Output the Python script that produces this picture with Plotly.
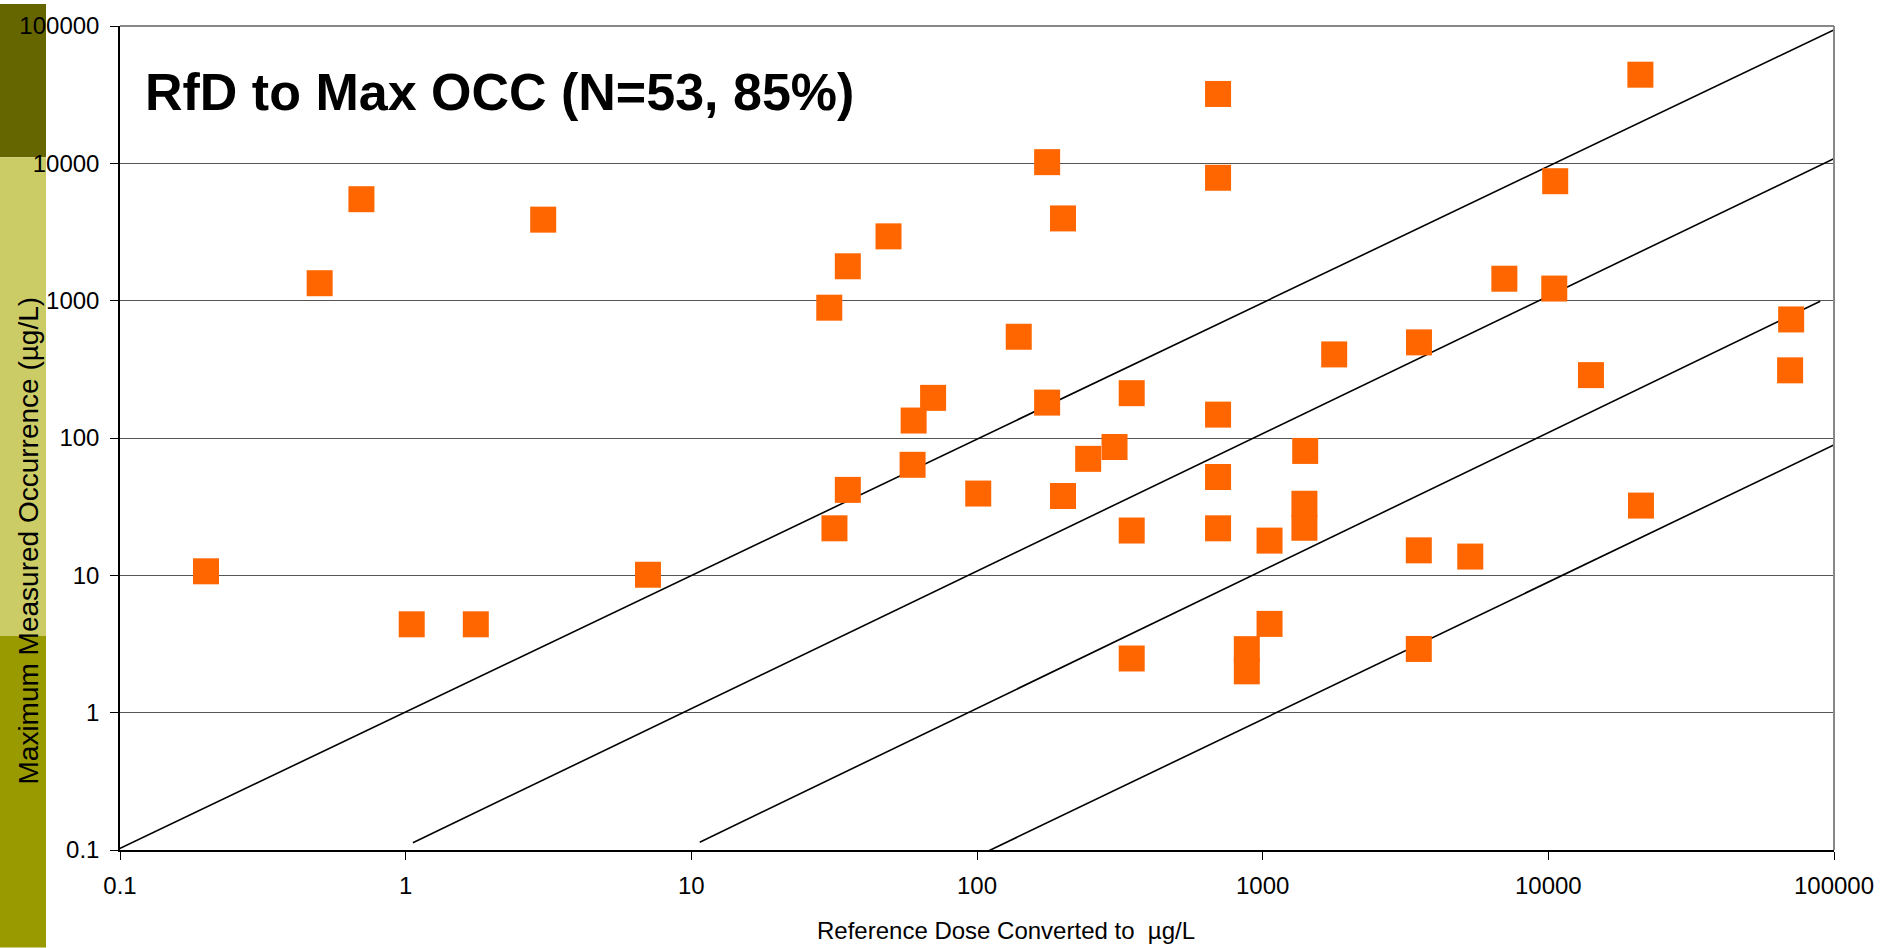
import plotly.graph_objects as go

# ---- data ----
rfd_ugl = [0.2, 0.5, 0.7, 1.05, 1.76, 3.03, 7.05, 30.4, 31.7, 35.3, 35.3, 49, 60, 59.5, 70.2,
           101, 140, 176, 176, 200, 200, 245, 303, 348, 348, 348, 698, 698, 698, 698, 698,
           880, 880, 1057, 1057, 1409, 1400, 1400, 1780, 3525, 3520, 3520, 5330, 7015,
           10570, 10490, 14100, 21000, 21100, 70800, 70200]
max_occ = [10.7, 1340, 5480, 4.4, 4.4, 3890, 10.1, 889, 22, 1780, 41.9, 2940, 134, 63.8, 196,
           39.4, 546, 10200, 181, 3970, 37.8, 70.5, 86, 212, 21.2, 2.48, 32000, 7850, 148, 52, 22,
           2.9, 2.0, 4.43, 17.9, 80.5, 33.2, 22.2, 406, 497, 15.2, 2.91, 13.7, 1445,
           7410, 1225, 287, 44200, 32.2, 730, 311]

# reference lines (start / end points)
line_x0 = [0.087, 1.06, 10.7, 96.6]
line_y0 = [0.0895, 0.113, 0.114, 0.0867]
line_x1 = [101000, 101000, 89500, 101000]
line_y1 = [94600, 10940, 990, 90]

tick_vals = [0.1, 1, 10, 100, 1000, 10000, 100000]
tick_text = ["0.1", "1", "10", "100", "1000", "10000", "100000"]

title_text = "RfD to Max OCC (N=53, 85%)"
x_title = "Reference Dose Converted to  µg/L"
y_title = "Maximum Measured Occurrence (µg/L)"

# ---- layout geometry (pixels) ----
W, H = 1886, 948
L, R, T, B = 120, 52, 22, 98
PW, PH = W - L - R, H - T - B


def px(X):
    return (X - L) / PW


def py(Y):
    return (H - B - Y) / PH


FONT = "Liberation Sans, Arial, sans-serif"

fig = go.Figure()

for i in range(len(line_x0)):
    fig.add_trace(go.Scatter(x=[line_x0[i], line_x1[i]], y=[line_y0[i], line_y1[i]],
                             mode="lines", line=dict(color="black", width=1.6),
                             showlegend=False, hoverinfo="skip"))

fig.add_trace(go.Scatter(x=rfd_ugl, y=max_occ, mode="markers",
                         marker=dict(symbol="square", size=26, color="#FF6600",
                                     line=dict(width=0)),
                         showlegend=False))

axis_common = dict(type="log", tickvals=tick_vals, ticktext=tick_text,
                   tickfont=dict(family=FONT, size=24, color="black"),
                   ticks="outside", ticklen=8, tickcolor="black", tickwidth=1,
                   showline=True, linecolor="black", linewidth=1.5,
                   zeroline=False)

fig.update_xaxes(range=[-1, 5], showgrid=False, ticklabelstandoff=5, **axis_common)
fig.update_yaxes(range=[-1, 5], showgrid=True, gridcolor="#555555", gridwidth=1,
                 ticklabelstandoff=6, **axis_common)

shapes = [
    # decorative left strip
    dict(type="rect", xref="paper", yref="paper", x0=px(0), x1=px(46), y0=py(0), y1=py(154),
         fillcolor="#666600", line=dict(width=0), layer="below"),
    dict(type="rect", xref="paper", yref="paper", x0=px(0), x1=px(46), y0=py(154), y1=py(635),
         fillcolor="#CCCC66", line=dict(width=0), layer="below"),
    dict(type="rect", xref="paper", yref="paper", x0=px(0), x1=px(46), y0=py(635), y1=py(H),
         fillcolor="#999900", line=dict(width=0), layer="below"),
    # gray top / right border
    dict(type="line", xref="paper", yref="paper", x0=0, x1=1, y0=1, y1=1,
         line=dict(color="#888888", width=2)),
    dict(type="line", xref="paper", yref="paper", x0=1, x1=1, y0=0, y1=1,
         line=dict(color="#888888", width=2)),
]

annotations = [
    dict(text="<b>" + title_text + "</b>", xref="paper", yref="paper",
         x=px(143), y=py(88), xanchor="left", yanchor="middle", showarrow=False,
         font=dict(family=FONT, size=52, color="black")),
    dict(text=x_title, xref="paper", yref="paper", x=px(1006), y=py(931),
         xanchor="center", yanchor="middle", showarrow=False,
         font=dict(family=FONT, size=24, color="black")),
    dict(text=y_title, xref="paper", yref="paper", x=px(29), y=py(539),
         xanchor="center", yanchor="middle", textangle=-90, showarrow=False,
         font=dict(family=FONT, size=28, color="black")),
]

fig.update_layout(width=W, height=H, margin=dict(l=L, r=R, t=T, b=B, pad=0),
                  paper_bgcolor="white", plot_bgcolor="white",
                  shapes=shapes, annotations=annotations, showlegend=False)

fig.write_html("out.html", config={"displayModeBar": False},
               post_script="document.body.style.margin='0';"
                           "document.body.style.overflow='hidden';")
